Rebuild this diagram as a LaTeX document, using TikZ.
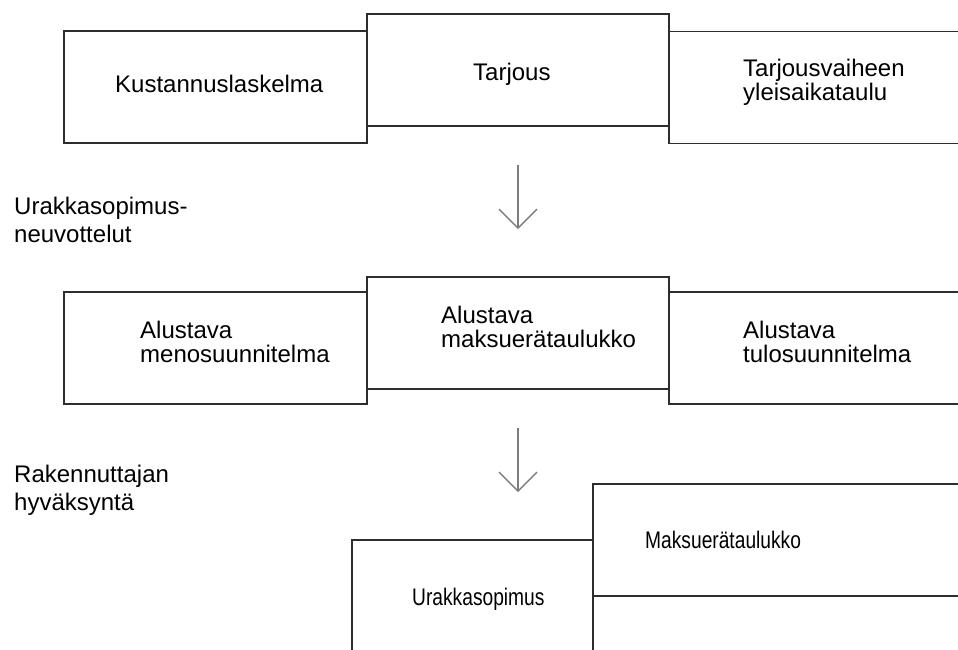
\documentclass[tikz,border=0pt]{standalone}
\usepackage{fontspec}
\usepackage{graphicx}
\setmainfont{Liberation Sans}
\usetikzlibrary{arrows.meta,positioning,calc}
\definecolor{boxline}{RGB}{45,45,45}
\definecolor{arrgray}{RGB}{125,125,125}

\begin{document}
\begin{tikzpicture}[x=1pt,y=-1pt,
  box/.style={draw=boxline,line width=1.6pt,minimum width=302pt,minimum height=112pt,inner sep=0pt,outer sep=0pt},
  txt/.style={inner sep=0pt,align=left,font=\fontsize{24}{24}\selectfont},
  side/.style={inner sep=0pt,align=left,font=\fontsize{24}{28}\selectfont},
  arr/.style={draw=arrgray,line width=1.3pt,-{Straight Barb[length=19pt,width=38pt]}}]
\useasboundingbox (0,0) rectangle (958,649);
\clip (0,0) rectangle (958,649);
% offer stage
\node[box,minimum width=303pt] (kust) at (215.5,87) {};
\node[box,right=0pt of kust,yshift=17pt] (tarj) {};
\node[box,right=0pt of tarj,yshift=-17.5pt] (aika) {};
\node[txt,anchor=base west] (kustT) at ($(kust.west)+(51,5)$) {Kustannuslaskelma};
\node[txt,anchor=base west] (tarjT) at ($(tarj.west)+(106,10)$) {Tarjous};
\node[txt,anchor=west] (aikaT) at ($(aika.west)+(74,-5)$) {Tarjousvaiheen\\yleisaikataulu};
% preliminary plans
\node[box,minimum width=303pt] (meno) at (215.5,348) {};
\node[box,right=0pt of meno,yshift=15pt] (alku) {};
\node[box,right=0pt of alku,yshift=-15pt] (tulo) {};
\node[txt,anchor=west] (menoT) at ($(meno.west)+(76,-6)$) {Alustava\\menosuunnitelma};
\node[txt,anchor=west] (alkuT) at ($(alku.west)+(74,-6.5)$) {Alustava\\maksuerätaulukko};
\node[txt,anchor=west] (tuloT) at ($(tulo.west)+(74,-6)$) {Alustava\\tulosuunnitelma};
% contract
\node[box,minimum width=241pt] (urak) at (472.5,596) {};
\node[box,right=0pt of urak,yshift=56pt,minimum width=380pt] (maks) {};
\node[box,below=0pt of maks,minimum width=380pt] (jatko) {};
\node[txt,anchor=base west] (urakT) at ($(urak.west)+(60,9)$) {\scalebox{.8}[1]{Urakkasopimus}};
\node[txt,anchor=base west] (maksT) at ($(maks.west)+(52,8)$) {\scalebox{.8}[1]{Maksuerätaulukko}};
% phases
\node[side,anchor=west] (neuv) at (14,220) {Urakkasopimus-\\neuvottelut};
\node[side,anchor=west] (hyv) at (14,490.5) {Rakennuttajan\\hyväksyntä};
\coordinate (a1) at ($(tarj.south)+(0,39)$);
\coordinate (b1) at ($(tarj.south)+(0,103)$);
\coordinate (a2) at ($(alku.south)+(0,39)$);
\coordinate (b2) at ($(alku.south)+(0,103)$);
\draw[arr] (a1) -- (b1);
\draw[arr] (a2) -- (b2);
\end{tikzpicture}
\end{document}
